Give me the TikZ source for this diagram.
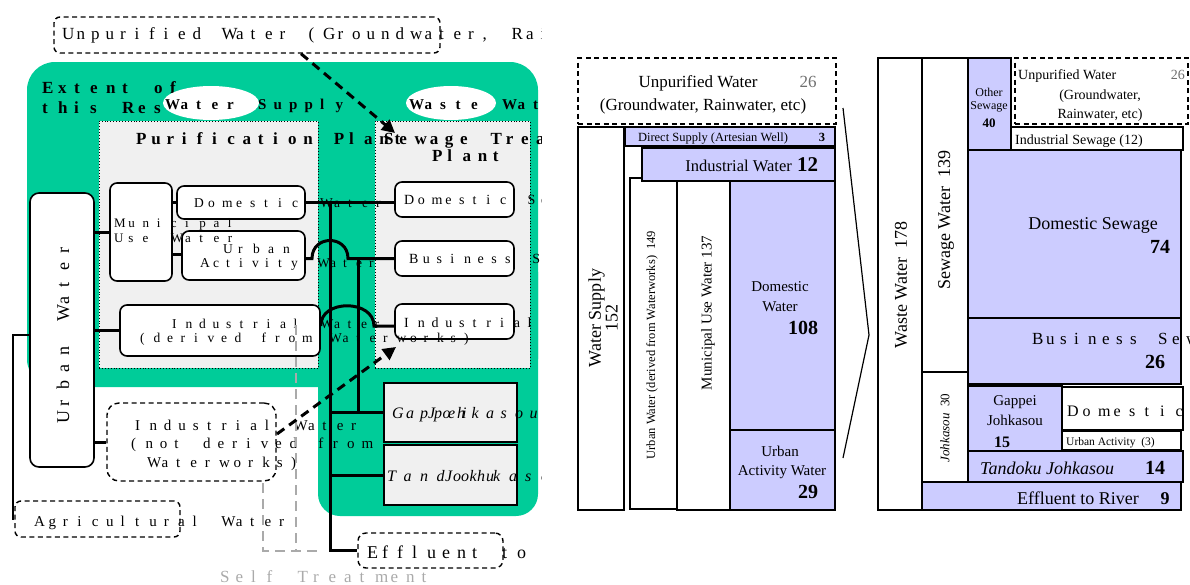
\documentclass[tikz,border=0pt]{standalone}
\usepackage{fontspec}
\setmainfont{Liberation Serif}
\usetikzlibrary{arrows.meta,fit,shapes.geometric}
\definecolor{grn}{RGB}{0,204,153}
\definecolor{lav}{RGB}{204,204,255}
\definecolor{pale}{RGB}{240,240,240}
\definecolor{gtxt}{RGB}{170,170,170}
\definecolor{numgray}{RGB}{110,110,110}
\makeatletter
\def\cl@end{\cl@end}
\newcommand\cells[2]{\begingroup\def\cl@w{#1}\cl@loop#2\cl@end\endgroup}
\def\cl@loop#1{\ifx#1\cl@end\else\makebox[\cl@w][l]{#1}\expandafter\cl@loop\fi}
\makeatother
\newcommand\fs[1]{\fontsize{#1}{#1}\selectfont}
\begin{document}
\begin{tikzpicture}[x=1pt,y=-1pt,
  lbl/.style={inner sep=0pt, anchor=base west},
  lblc/.style={inner sep=0pt, anchor=base},
  lble/.style={inner sep=0pt, anchor=base east},
  rbox/.style={draw, line width=1.6pt, fill=white, rounded corners=7pt, inner sep=0pt},
  dbox/.style={draw, line width=1.4pt, dash pattern=on 5pt off 3.5pt, fill=white, rounded corners=6pt, inner sep=0pt},
  plant/.style={draw, dotted, line width=0.9pt, fill=pale, inner sep=0pt},
  jbox/.style={draw, line width=1.8pt, fill=pale, inner sep=0pt},
  conn/.style={line width=3pt},
  darrow/.style={line width=3pt, dash pattern=on 9pt off 6pt, -{Triangle[length=13pt,width=13pt]}},
  selfline/.style={draw=gtxt, line width=2.8pt, dash pattern=on 10pt off 6pt},
  pbox/.style={draw, line width=1.6pt, inner sep=0pt},
  lv/.style={pbox, fill=lav},
  wh/.style={pbox, fill=white},
  pd/.style={draw, line width=1.4pt, dash pattern=on 5pt off 3.5pt, inner sep=0pt},
  ell/.style={ellipse, fill=white, inner sep=0pt},
  rot/.style={rotate=90, inner sep=0pt, align=center}
]
\useasboundingbox (0,0) rectangle (1190,584);
% ================= LEFT PANEL =================
\begin{scope}
\clip (0,0) rectangle (541,584);
\fill[grn, rounded corners=28pt] (27,62) rectangle (538,387);
\fill[grn, rounded corners=22pt] (318,250) rectangle (538,516);
\node[lbl] (ext1) at (42,93) {\fs{17}\bfseries\cells{16pt}{Extent~of}};
\node[lbl] (ext2) at (42,113) {\fs{17}\bfseries\cells{16pt}{this~Research}};
\node[ell, minimum width=96pt, minimum height=34pt] (e1) at (211,103) {};
\node[ell, minimum width=90pt, minimum height=34pt] (e2) at (451,103) {};
\node[lbl] (tws) at (165,109) {\fs{15}\bfseries\cells{15.5pt}{Water~Supply}};
\node[lbl] (tww) at (409,109) {\fs{15}\bfseries\cells{15.5pt}{Waste~Water}};
\node[plant, fit={(99,121) (318,368)}] (pur) {};
\node[plant, fit={(375,121) (530,368)}] (swt) {};
\node[lbl] (tpur) at (136,144) {\fs{17}\bfseries\cells{15.2pt}{Purification~Plant}};
\node[lbl] (tswt) at (384,144) {\fs{17}\bfseries\cells{15.2pt}{Sewage~Treatment}};
\node[lbl] (tswt2) at (432,161) {\fs{17}\bfseries\cells{15.2pt}{Plant}};
\node[jbox, fit={(384,383) (517,442)}] (gap) {};
\node[jbox, fit={(384,445) (517,505)}] (tan) {};
% boxes
\node[rbox, rounded corners=9pt, fit={(30,193) (94,467)}] (uw) {};
\node[rbox, fit={(110,183) (172,281)}] (mu) {};
\node[rbox, fit={(177,186) (305,219)}] (dw) {};
\node[rbox, fit={(182,231) (305,280)}] (ua) {};
\node[rbox, fit={(120,305) (320,356)}] (iw) {};
\node[rbox, fit={(395,182) (514,217)}] (ds) {};
\node[rbox, fit={(395,241) (514,276)}] (bs) {};
\node[rbox, fit={(395,304) (514,339)}] (is) {};
\node[dbox, rounded corners=12pt, fit={(107,403) (276,481)}] (iwn) {};
\node[dbox, fit={(15,501) (180,537)}] (ag) {};
\node[dbox, rounded corners=8pt, fit={(358,533) (503,568)}] (ef) {};
\node[dbox, fit={(54,17) (440,53)}] (up) {};
% connectors
\coordinate (vx) at (330,0);
\coordinate (vy) at (358,0);
\coordinate (iy) at (0,326);
\coordinate (uy) at (0,254);
\coordinate (ly) at (0,335);
\coordinate (lx) at (13,519);
\draw[conn] (dw.east) -- (dw.east -| ds.west);
\draw[conn] (dw.east -| vx) |- (ef.west);
\draw[conn] (ua.east |- bs.west) -- (312,258.5) .. controls (312,234.5) and (348,234.5) .. (348,258.5) -- (bs.west);
\draw[conn] (vy |- bs.west) -- (vy |- gap.west);
\draw[conn] (iw.east |- iy) .. controls (320,299) and (374,299) .. (374,326) -- (is.west |- iy);
\draw[conn] (gap.west) -- (gap.west -| vx);
\draw[conn] (tan.west) -- (tan.west -| vx);
\draw[conn] (mu.west) -- (mu.west -| uw.east);
\draw[conn] (iw.west) -- (iw.west -| uw.east);
\draw[conn] (iwn.west) -- (iwn.west -| uw.east);
\draw[conn] (mu.east |- dw.west) -- (dw.west);
\draw[conn] (mu.east |- uy) -- (ua.west |- uy);
\draw[line width=2.6pt] (uw.west |- ly) -| (lx) -- (ag.west);
% texts
\node[lbl] (tup) at (62,39) {\fs{17}\cells{14.5pt}{Unpurified~Water~(Groundwater,~Rainwater,~etc)}};
\node[lbl] (tmu1) at (114,227) {\fs{13}\cells{14.2pt}{Municipal}};
\node[lbl] (tmu2) at (114,242) {\fs{13}\cells{14.2pt}{Use~Water}};
\node[lbl] (tdw) at (194,207) {\fs{13.5}\cells{14pt}{Domestic~Water}};
\node[lbl] (tua1) at (223,253) {\fs{13.5}\cells{15pt}{Urban}};
\node[lbl] (tua2) at (200,267) {\fs{13.5}\cells{13pt}{Activity~Water}};
\node[lbl] (tiw1) at (172,328) {\fs{13.5}\cells{13.5pt}{Industrial~Water}};
\node[lbl] (tiw2) at (140,342) {\fs{13.5}\cells{13.5pt}{(derived~from~Waterworks)}};
\node[lbl] (tds) at (404,204) {\fs{14}\cells{13.7pt}{Domestic~Sewage}};
\node[lbl] (tbs) at (409,263) {\fs{14}\cells{13.7pt}{Business~Sewage}};
\node[lbl] (tis) at (404,327) {\fs{14}\cells{13.7pt}{Industrial~Sewage}};
\node[lbl] (tn1) at (135,430) {\fs{15}\cells{14.4pt}{Industrial~Water}};
\node[lbl] (tn2) at (131,448) {\fs{15}\cells{14.4pt}{(not~derived~from}};
\node[lbl] (tn3) at (147,467) {\fs{15}\cells{14.4pt}{Waterworks)}};
\node[lbl] (tag) at (34,526) {\fs{15}\cells{14.4pt}{Agricultural~Water}};
\node[lbl] (tg1) at (392,418) {\fs{16}\itshape\cells{14pt}{Gappei}};
\node[lbl] (tg2) at (428,418) {\fs{16}\itshape\cells{14.5pt}{Johkasou}};
\node[lbl] (tt1) at (387,481) {\fs{16}\itshape\cells{16.5pt}{Tandoku}};
\node[lbl] (tt2) at (445,481) {\fs{16}\itshape\cells{16pt}{Johkasou}};
\node[lbl] (tef) at (367,558) {\fs{18}\cells{15pt}{Effluent~to~River}};
\node[lbl, text=gtxt] (tself) at (220,582) {\fs{17}\cells{15.5pt}{Self~Treatment}};
\node[rot] (tuw) at (63,330) {\fs{18}\cells{17pt}{Urban~Water}};
% self treatment gray lines
\coordinate (s1) at (296,325);
\coordinate (s2) at (263,483);
\coordinate (s3) at (323,551);
\draw[selfline] (s1) -- (s1 |- s3);
\draw[selfline] (s2) |- (s3);
% dashed arrows
\coordinate (a1x) at (301,0);
\coordinate (a1e) at (395,133);
\coordinate (a2s) at (277,434);
\coordinate (a2e) at (396,347);
\draw[darrow] (up.south -| a1x) -- (a1e);
\draw[darrow] (a2s) -- (a2e);
\end{scope}
% ================= PANEL A =================
\node[pd, fit={(578,58) (836,124)}] (up2) {};
\node[wh, fit={(578,127) (624,510)}] (ws) {};
\node[lv, fit={(625,127) (835,146)}] (dsu) {};
\node[wh, fit={(630,178) (677,509)}] (uwd) {};
\node[lv, fit={(642,148) (835,181)}] (iwa) {};
\node[wh, fit={(677,181) (730,510)}] (muw) {};
\node[lv, fit={(730,181) (835,430)}] (dwa) {};
\node[lv, fit={(730,430) (835,510)}] (uaw) {};
\node[lblc] (a1) at (698,87) {\fs{17}Unpurified Water};
\node[lblc, text=numgray] (a2) at (808,87) {\fs{17}26};
\node[lblc] (a3) at (703,110) {\fs{17}(Groundwater, Rainwater, etc)};
\node[rot] (a4) at (603,318) {\fs{18}Water Supply\\\fs{18}152};
\node[rot] (a5) at (652,345) {\fs{12.5}Urban Water (derived from Waterworks) \ 149};
\node[rot] (a6) at (708,313) {\fs{15}Municipal Use Water 137};
\node[lblc] (a7) at (713,141) {\fs{12.5}Direct Supply (Artesian Well)};
\node[lblc] (a8) at (822,141) {\fs{12.5}\bfseries 3};
\node[lble] (a9) at (792,171) {\fs{16.5}Industrial Water};
\node[lbl] (a10) at (797,171) {\fs{21}\bfseries 12};
\node[lblc] (a11) at (780,291) {\fs{15}Domestic};
\node[lblc] (a12) at (780,311) {\fs{15}Water};
\node[lblc] (a13) at (803,334) {\fs{20}\bfseries 108};
\node[lblc] (a14) at (780,456) {\fs{15}Urban};
\node[lblc] (a15) at (782,475) {\fs{15}Activity Water};
\node[lblc] (a16) at (808,498) {\fs{20}\bfseries 29};
% chevron
\coordinate (c1) at (843,108);
\coordinate (c2) at (869,335);
\coordinate (c3) at (843,458);
\draw[line width=1.2pt] (c1) -- (c2) -- (c3);
% ================= PANEL B =================
\node[wh, fit={(878,58) (922,510)}] (ww) {};
\node[wh, fit={(922,58) (968,372)}] (sw) {};
\node[wh, fit={(922,372) (968,482)}] (jk) {};
\node[lv, fit={(968,58) (1011,150)}] (os) {};
\node[pd, fit={(1015,58) (1188,124)}] (up3) {};
\node[wh, fit={(1011,127) (1183,150)}] (ins) {};
\node[lv, fit={(968,150) (1181,318)}] (dse) {};
\node[lv, fit={(968,318) (1181,384)}] (bse) {};
\node[lv, fit={(968,386) (1062,451)}] (gj) {};
\node[wh, fit={(1062,387) (1183,430)}] (dm) {};
\node[wh, fit={(1062,431) (1181,450)}] (uac) {};
\node[lv, fit={(968,451) (1183,482)}] (tj) {};
\node[lv, fit={(922,482) (1181,510)}] (efr) {};
\node[rot] (b1) at (901,285) {\fs{18}Waste Water \ 178};
\node[rot] (b2) at (946,220) {\fs{18}Sewage Water \ 139};
\node[rot] (b3) at (945,428) {\fs{13}\textit{Johkasou} \ 30};
\node[lblc] (b4) at (989,96) {\fs{12}Other};
\node[lblc] (b5) at (989,109) {\fs{12}Sewage};
\node[lblc] (b6) at (989,127) {\fs{13}\bfseries 40};
\node[lbl] (b7) at (1018,79) {\fs{14}Unpurified Water};
\node[lble, text=numgray] (b8) at (1185,79) {\fs{14}26};
\node[lblc] (b9) at (1100,99) {\fs{14}(Groundwater,};
\node[lblc] (b10) at (1100,118) {\fs{14}Rainwater, etc)};
\node[lbl] (b11) at (1015,144) {\fs{14}Industrial Sewage (12)};
\node[lblc] (b12) at (1093,229) {\fs{18}Domestic Sewage};
\node[lblc] (b13) at (1160,253) {\fs{20}\bfseries 74};
\node[lbl] (b14) at (1032,344) {\fs{17}\cells{14pt}{Business~Sewage}};
\node[lblc] (b15) at (1155,368) {\fs{20}\bfseries 26};
\node[lblc] (b16) at (1015,405) {\fs{15}Gappei};
\node[lblc] (b17) at (1015,425) {\fs{15}Johkasou};
\node[lblc] (b18) at (1002,447) {\fs{16}\bfseries 15};
\node[lbl] (b19) at (1067,416) {\fs{16}\cells{15.5pt}{Domestic}};
\node[lbl] (b20) at (1066,445) {\fs{11.5}Urban Activity \ (3)};
\node[lbl] (b21) at (980,474) {\fs{18}\textit{Tandoku Johkasou}};
\node[lblc] (b22) at (1155,474) {\fs{20}\bfseries 14};
\node[lblc] (b23) at (1078,504) {\fs{18}Effluent to River};
\node[lblc] (b24) at (1165,504) {\fs{18}\bfseries 9};
\end{tikzpicture}
\end{document}
